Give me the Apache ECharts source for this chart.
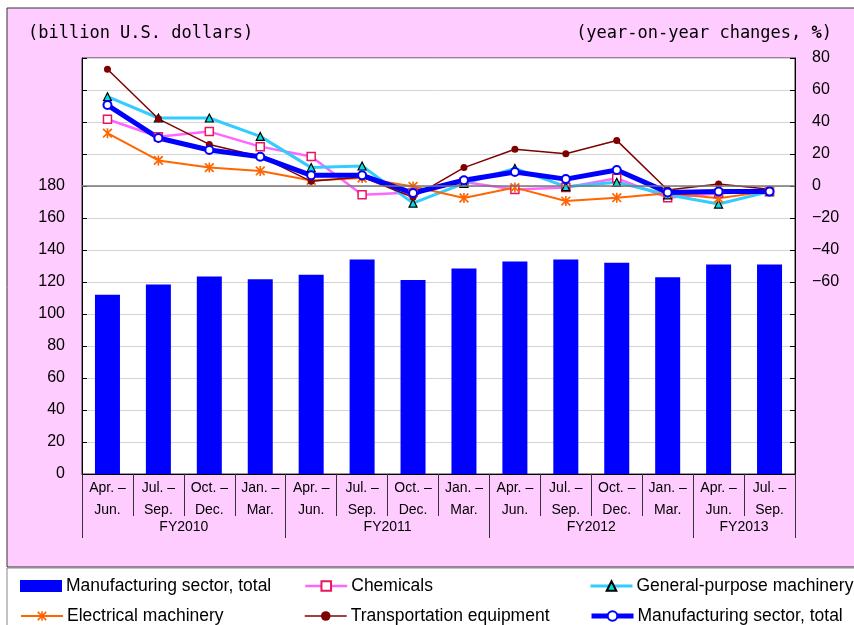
<!DOCTYPE html>
<html>
<head>
<meta charset="utf-8">
<script src="https://cdn.jsdelivr.net/npm/echarts@6/dist/echarts.min.js"></script>
<style>
  html, body { margin: 0; padding: 0; background: #fff; }
  #chart { width: 854px; height: 625px; }
</style>
</head>
<body>
<div id="chart"></div>
<script>
// quarter categories and fiscal-year grouping
const quarters = [
  'Apr. –\nJun.', 'Jul. –\nSep.', 'Oct. –\nDec.', 'Jan. –\nMar.',
  'Apr. –\nJun.', 'Jul. –\nSep.', 'Oct. –\nDec.', 'Jan. –\nMar.',
  'Apr. –\nJun.', 'Jul. –\nSep.', 'Oct. –\nDec.', 'Jan. –\nMar.',
  'Apr. –\nJun.', 'Jul. –\nSep.'
]
// one entry per band boundary (15 points)
const fyLabels = ['', '', 'FY2010', '', '', '', 'FY2011', '', '', '', 'FY2012', '', '', 'FY2013', '']
const fyBounds = [0, 4, 8, 12, 14]

// billion U.S. dollars
const totalAmount = [112, 118.4, 123.4, 121.7, 124.6, 134, 121.3, 128.5, 132.8, 134, 132.1, 122.9, 131, 131]
// year-on-year changes, %
const chemicals = [41.7, 30.8, 34, 24.6, 18.5, -5.4, -4, 2.5, -2.2, -1, 4.8, -7.3, -4.6, -3.5]
const generalMachinery = [55.8, 42.5, 42.5, 31, 11.5, 12.5, -10.7, 1.6, 11, -0.4, 2.3, -5.5, -11.3, -3.5]
const electricalMachinery = [33, 16, 11.5, 9.4, 3.5, 5, -0.3, -7.5, -1, -9.4, -7.3, -4.5, -7.7, -3.2]
const transportEquipment = [73, 42, 26, 18.5, 2.9, 5.6, -7, 11.5, 23, 20.2, 28.5, -2.5, 1.2, -2]
const totalYoY = [50.6, 30, 22.5, 18.3, 6.7, 6.7, -4.4, 3.6, 8.8, 4.3, 10, -4, -3.5, -3.5]

const sans = "'Liberation Sans', Arial, sans-serif"
const mono = "'DejaVu Sans Mono', monospace"

const asterisk = 'path://M-0.8,-5L0.8,-5L0.8,5L-0.8,5Z' +
  'M-4.9,-3.7L-3.7,-4.9L4.9,3.7L3.7,4.9Z' +
  'M3.7,-4.9L4.9,-3.7L-3.7,4.9L-4.9,3.7Z'

const chart = echarts.init(document.getElementById('chart'))

// one legend per slot so the 3 x 2 layout is fixed
const legendItem = (name, left, top, icon) => ({
  left: left,
  top: top,
  padding: 0,
  itemWidth: 42,
  itemHeight: 12,
  itemGap: 4,
  selectedMode: false,
  lineStyle: { width: 'inherit' },
  data: [icon ? { name: name, icon: icon } : name],
  textStyle: { fontFamily: sans, fontSize: 17.5, color: '#000', padding: [0, 0, 0, -1] }
})

const option = {
  animation: false,
  graphic: [
    {
      type: 'rect', z: -1, silent: true,
      shape: { x: 7, y: 8, width: 870, height: 559 },
      style: { fill: '#FFCCFF', stroke: '#333', lineWidth: 1 }
    },
    {
      type: 'rect', z: -1, silent: true,
      shape: { x: 7, y: 568, width: 870, height: 80 },
      style: { fill: '#fff', stroke: '#888', lineWidth: 1 }
    },
    {
      type: 'text', left: 28, top: 25,
      style: { text: '(billion U.S. dollars)', font: '17px ' + mono, fill: '#000' }
    },
    {
      type: 'text', right: 22, top: 25,
      style: {
        text: '{a|(year-on-year changes, }{b|%}{a|)}',
        rich: {
          a: { fontFamily: mono, fontSize: 17, fill: '#000' },
          b: { fontFamily: mono, fontSize: 17, fontWeight: 'bold', fill: '#000' }
        }
      }
    }
  ],
  legend: [
    legendItem('Manufacturing sector, total', 20, 577, 'rect'),
    legendItem('Electrical machinery', 20, 607),
    legendItem('Chemicals', 304, 577),
    legendItem('Transportation equipment', 304, 607),
    legendItem('General-purpose machinery', 589, 577),
    legendItem('Manufacturing sector, total ', 589, 607)
  ],
  grid: {
    left: 82, right: 59, top: 58, bottom: 151,
    show: true, backgroundColor: '#fff', borderColor: '#333', borderWidth: 1
  },
  xAxis: [
    {
      type: 'category',
      data: quarters,
      axisLine: { onZero: false, lineStyle: { color: '#000', width: 1 } },
      axisTick: { show: true, interval: 0, length: 42, lineStyle: { color: '#333' } },
      axisLabel: {
        interval: 0, margin: 3, color: '#000',
        fontFamily: sans, fontSize: 14, lineHeight: 22
      }
    },
    {
      type: 'category',
      position: 'bottom',
      boundaryGap: false,
      data: fyLabels,
      axisLine: { show: false, onZero: false },
      axisTick: {
        show: true, length: 64,
        interval: (i) => fyBounds.includes(i),
        lineStyle: { color: '#333' }
      },
      axisLabel: {
        interval: 0, margin: 46, color: '#000',
        fontFamily: sans, fontSize: 14
      }
    }
  ],
  yAxis: [
    {
      type: 'value',
      min: 0, max: 260, interval: 20,
      axisLine: { show: true, lineStyle: { color: '#000' } },
      axisTick: { show: true, inside: true, length: 5, lineStyle: { color: '#000' } },
      axisLabel: {
        margin: 17, color: '#000', fontFamily: sans, fontSize: 16,
        formatter: (v) => (v <= 180 ? String(v) : '')
      },
      splitLine: { lineStyle: { color: '#d4d4d4', width: 1 } }
    },
    {
      type: 'value',
      position: 'right',
      min: -180, max: 80, interval: 20,
      axisLine: { show: true, onZero: false, lineStyle: { color: '#000' } },
      axisTick: { show: true, inside: true, length: 5, lineStyle: { color: '#000' } },
      axisLabel: {
        margin: 17, color: '#000', fontFamily: sans, fontSize: 16,
        formatter: (v) => (v >= -60 ? (v < 0 ? '−' + Math.abs(v) : String(v)) : '')
      },
      splitLine: { show: false }
    }
  ],
  series: [
    {
      name: 'Manufacturing sector, total',
      type: 'bar',
      data: totalAmount,
      barWidth: 25,
      itemStyle: { color: '#0000FF' },
      markLine: {
        silent: true,
        symbol: ['none', 'none'],
        label: { show: false },
        lineStyle: { color: '#777', width: 1.5, type: 'solid' },
        data: [{ yAxis: 180 }]
      }
    },
    {
      name: 'Chemicals',
      type: 'line',
      yAxisIndex: 1,
      data: chemicals,
      symbol: 'rect', symbolSize: 8,
      lineStyle: { color: '#FF66FF', width: 2.5 },
      itemStyle: { color: '#fff', borderColor: '#E8175D', borderWidth: 1.5 }
    },
    {
      name: 'General-purpose machinery',
      type: 'line',
      yAxisIndex: 1,
      data: generalMachinery,
      symbol: 'triangle', symbolSize: 8,
      lineStyle: { color: '#33CCFF', width: 3 },
      itemStyle: { color: '#00E0E0', borderColor: '#000', borderWidth: 1.2 }
    },
    {
      name: 'Electrical machinery',
      type: 'line',
      yAxisIndex: 1,
      data: electricalMachinery,
      symbol: asterisk, symbolSize: 10,
      lineStyle: { color: '#FF6600', width: 2 },
      itemStyle: { color: '#FF6600' }
    },
    {
      name: 'Transportation equipment',
      type: 'line',
      yAxisIndex: 1,
      data: transportEquipment,
      symbol: 'circle', symbolSize: 7,
      lineStyle: { color: '#800000', width: 1.5 },
      itemStyle: { color: '#800000' }
    },
    {
      name: 'Manufacturing sector, total ',
      type: 'line',
      yAxisIndex: 1,
      data: totalYoY,
      symbol: 'emptyCircle', symbolSize: 8,
      lineStyle: { color: '#0000FF', width: 5 },
      itemStyle: { color: '#0000FF', borderWidth: 4 }
    }
  ]
}

chart.setOption(option)
</script>
</body>
</html>
